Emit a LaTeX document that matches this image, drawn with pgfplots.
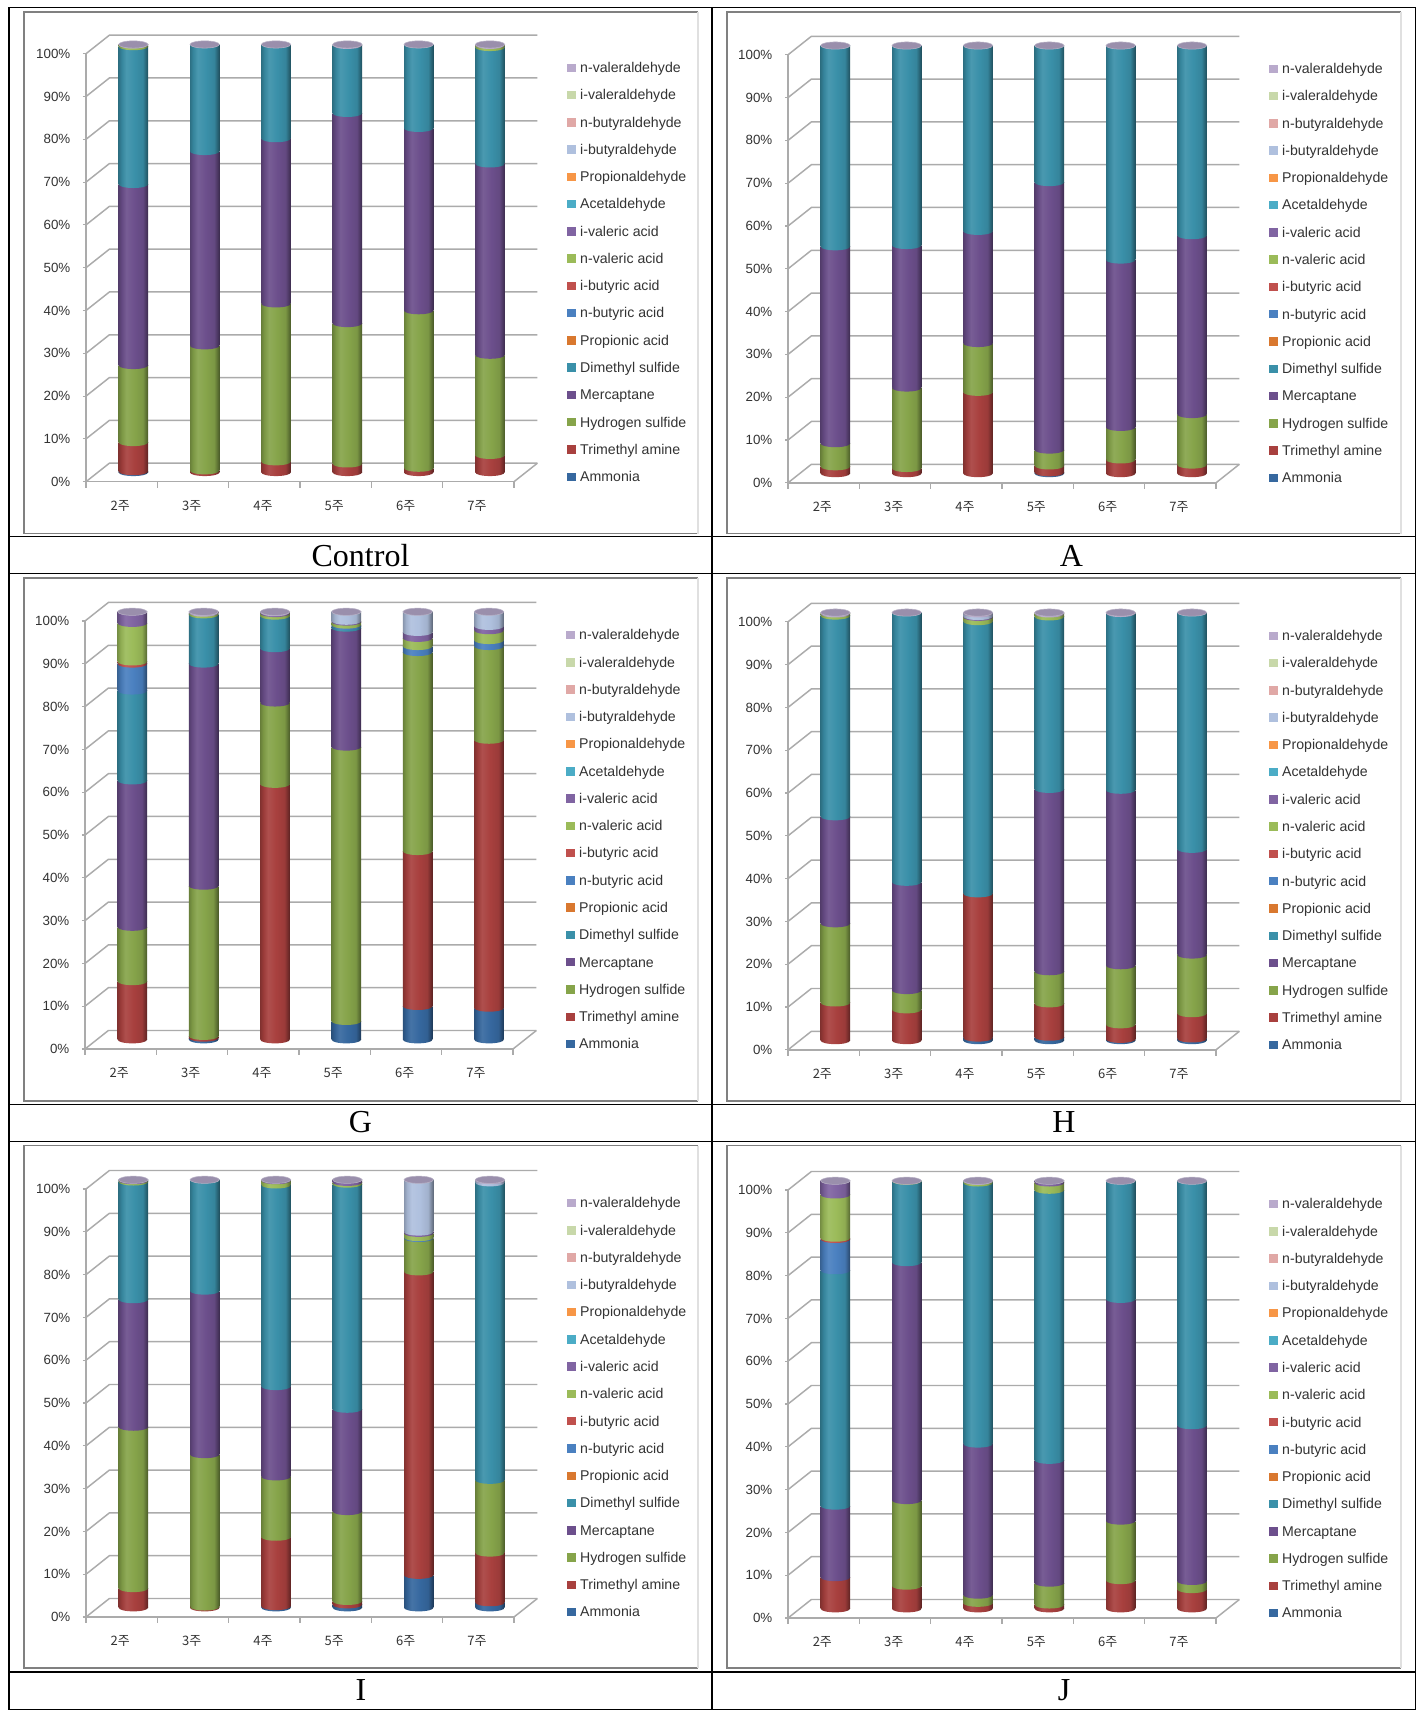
\documentclass[border=0pt]{standalone}
\usepackage{pgfplots}
\usepackage{pgfplotstable}
\pgfplotsset{compat=1.18}
\usepackage{fontspec}
\setmainfont{Liberation Sans}
\newfontfamily\kr{Noto Sans CJK KR}
\newfontfamily\capfont{Liberation Serif}

\definecolor{cAmm}{HTML}{36689F}
\definecolor{cTma}{HTML}{A8403E}
\definecolor{cHsu}{HTML}{86A44A}
\definecolor{cMer}{HTML}{6C4F8C}
\definecolor{cDms}{HTML}{3A90A9}
\definecolor{cPro}{HTML}{D9782F}
\definecolor{cNbu}{HTML}{4A80C0}
\definecolor{cIbu}{HTML}{C0504D}
\definecolor{cNva}{HTML}{9BBB59}
\definecolor{cIva}{HTML}{8064A2}
\definecolor{cAce}{HTML}{4BACC6}
\definecolor{cPra}{HTML}{F79646}
\definecolor{cIba}{HTML}{AFC0DE}
\definecolor{cNba}{HTML}{E0A8A6}
\definecolor{cIvd}{HTML}{C8D8AA}
\definecolor{cNvd}{HTML}{B9AACC}
\definecolor{wall}{HTML}{ABABAB}
\definecolor{lidc}{HTML}{9A8FAC}
\colorlet{cyl}{black}

% shares per week, bottom of the stack first
\pgfplotstableread{
w   Amm Tma  Hsu  Mer  Dms  Pro Nbu Ibu Nva Iva Ace Pra Iba Nba Ivd Nvd
0.5 0.2 6.8  18.0 42.3 32.2 0   0   0   0.4 0   0   0   0   0   0   0.1
1.5 0   0.4  29.2 45.4 25.0 0   0   0   0   0   0   0   0   0   0   0
2.5 0   2.5  36.9 38.6 22.0 0   0   0   0   0   0   0   0   0   0   0
3.5 0   2.0  32.8 49.1 15.9 0   0   0   0   0   0   0   0   0   0   0.2
4.5 0   1.0  36.8 42.6 19.6 0   0   0   0   0   0   0   0   0   0   0
5.5 0   4.0  23.4 44.7 27.2 0   0   0   0.5 0   0   0   0   0   0   0.2
}\tabC
\pgfplotstableread{
w   Amm Tma  Hsu  Mer  Dms  Pro Nbu Ibu Nva Iva Ace Pra Iba Nba Ivd Nvd
0.5 0   1.6  5.4  46.0 47.0 0   0   0   0   0   0   0   0   0   0   0
1.5 0   1.2  18.8 33.3 46.7 0   0   0   0   0   0   0   0   0   0   0
2.5 0   19.0 11.4 26.2 43.4 0   0   0   0   0   0   0   0   0   0   0
3.5 0.2 1.6  3.7  62.5 32.0 0   0   0   0   0   0   0   0   0   0   0
4.5 0   3.2  7.6  39.1 50.1 0   0   0   0   0   0   0   0   0   0   0
5.5 0   2.0  11.8 41.8 44.4 0   0   0   0   0   0   0   0   0   0   0
}\tabA
\pgfplotstableread{
w   Amm Tma  Hsu  Mer  Dms  Pro Nbu Ibu Nva Iva Ace Pra Iba Nba Ivd Nvd
0.5 0   13.6 12.7 34.2 21.0 0   6.3 0.5 9.0 2.7 0   0   0   0   0   0
1.5 0.4 0.4  35.1 51.9 11.5 0   0   0   0.4 0   0   0   0   0   0   0.3
2.5 0   59.7 19.0 12.7 7.6  0   0   0   0.6 0.2 0   0   0   0   0   0.2
3.5 4.3 0    64.1 27.8 0.4  0   0.3 0   0.7 0.2 0   0   2.2 0   0   0
4.5 7.8 36.2 46.5 0    0    0   1.4 0   1.9 1.4 0   0   4.8 0   0   0
5.5 7.4 62.6 21.9 0    0    0   1.4 0   2.3 1.0 0   0   3.4 0   0   0
}\tabG
\pgfplotstableread{
w   Amm Tma  Hsu  Mer  Dms  Pro Nbu Ibu Nva Iva Ace Pra Iba Nba Ivd Nvd
0.5 0   8.8  18.5 25.0 46.9 0   0   0   0.5 0   0   0   0   0   0   0.3
1.5 0   7.2  4.5  25.3 63.0 0   0   0   0   0   0   0   0   0   0   0
2.5 0.6 33.7 0    0    63.6 0   0   0   1.0 0.2 0   0   0.6 0   0   0.3
3.5 0.8 7.8  7.5  42.6 40.3 0   0   0   0.7 0   0   0   0   0   0   0.3
4.5 0.3 3.4  13.8 41.0 41.3 0   0   0   0   0   0   0   0   0   0   0.2
5.5 0.4 5.9  13.7 24.7 55.3 0   0   0   0   0   0   0   0   0   0   0
}\tabH
\pgfplotstableread{
w   Amm Tma  Hsu  Mer  Dms  Pro Nbu Ibu Nva Iva Ace Pra Iba Nba Ivd Nvd
0.5 0   4.5  37.7 29.8 27.5 0   0   0   0.3 0.2 0   0   0   0   0   0
1.5 0   0.2  35.6 38.2 26.0 0   0   0   0   0   0   0   0   0   0   0
2.5 0.3 16.2 14.1 21.1 47.1 0   0   0   1.0 0.2 0   0   0   0   0   0
3.5 0.7 0.8  21.0 23.9 52.6 0   0   0   0.4 0.6 0   0   0   0   0   0
4.5 7.6 70.9 7.8  0    0    0   0.2 0   1.0 0.3 0   0   12.2 0  0   0
5.5 1.2 11.6 17.0 0    69.5 0   0   0   0   0   0   0   0.5 0   0   0.2
}\tabI
\pgfplotstableread{
w   Amm Tma  Hsu  Mer  Dms  Pro Nbu Ibu Nva  Iva Ace Pra Iba Nba Ivd Nvd
0.5 0   7.3  0    16.7 55.0 0   7.3 0.3 10.1 3.3 0   0   0   0   0   0
1.5 0   5.3  20.0 55.6 19.0 0   0   0   0.1  0   0   0   0   0   0   0
2.5 0   1.3  1.9  35.3 61.0 0   0   0   0.4  0   0   0   0   0   0   0.1
3.5 0   0.9  5.1  28.7 63.1 0   0   0   1.7  0.5 0   0   0   0   0   0
4.5 0   6.6  13.9 51.8 27.7 0   0   0   0    0   0   0   0   0   0   0
5.5 0   4.5  1.9  36.4 57.2 0   0   0   0    0   0   0   0   0   0   0
}\tabJ

% running base of each segment
\def\bAmm{0}
\def\bTma{\thisrow{Amm}}
\def\bHsu{\bTma+\thisrow{Tma}}
\def\bMer{\bHsu+\thisrow{Hsu}}
\def\bDms{\bMer+\thisrow{Mer}}
\def\bPro{\bDms+\thisrow{Dms}}
\def\bNbu{\bPro+\thisrow{Pro}}
\def\bIbu{\bNbu+\thisrow{Nbu}}
\def\bNva{\bIbu+\thisrow{Ibu}}
\def\bIva{\bNva+\thisrow{Nva}}
\def\bAce{\bIva+\thisrow{Iva}}
\def\bPra{\bAce+\thisrow{Ace}}
\def\bIba{\bPra+\thisrow{Pra}}
\def\bNba{\bIba+\thisrow{Iba}}
\def\bIvd{\bNba+\thisrow{Nba}}
\def\bNvd{\bIvd+\thisrow{Ivd}}
\def\bTop{\bNvd+\thisrow{Nvd}}

% sideways shading of a cylinder, the bar spans 25bp to 75bp
\pgfdeclarehorizontalshading[cyl]{cylshade}{100bp}{
  color(0bp)=(cyl!78!black); color(25bp)=(cyl!78!black); color(30bp)=(cyl!92!black);
  color(38bp)=(cyl!92!white); color(52bp)=(cyl); color(66bp)=(cyl!92!black);
  color(75bp)=(cyl!55!black); color(100bp)=(cyl!55!black)}
\tikzset{cylinder look/.style={/utils/exec={\colorlet{cyl}{#1}},shade,shading=cylshade}}

% cylinder rim, the mark is the coloured disc at the foot of a segment
\pgfdeclareplotmark{rim}{\path[rotate=4,draw=none,cylinder look=\rimc]
  (0,0) ellipse [x radius=11pt,y radius=2.7pt];}
\pgfdeclareplotmark{lid}{\path[rotate=4,fill=\rimc,draw=\rimc!70!white,line width=0.4pt]
  (0,0) ellipse [x radius=11pt,y radius=2.7pt];}

\pgfplotsset{
  base/.style={scale only axis,width=321pt,height=321pt,xmin=0,xmax=6,ymin=0,ymax=100,
    anchor=south west,clip=false},
}
% one segment of one week
\newcommand{\seg}[3]{%
  \addplot[draw=none,cylinder look=c#1,restrict x to domain=#3] table[x=w,y=#1] {#2};
}
\newcommand{\key}[2]{%
  \addlegendimage{legend image code/.code={\fill[c#1] (0pt,-2.8pt) rectangle (6pt,2.8pt);}}
  \addlegendentry{#2}
}
\newcommand{\rim}[2]{%
  \addplot[only marks,mark=rim,/utils/exec={\def\rimc{c#1}},
    restrict expr to domain={\thisrow{#1}}{0.01:1000}]
    table[x=w,y expr=\csname b#1\endcsname] {#2};
}
% a week gets its own axis so that the shading is per bar
\newcommand{\week}[4]{%
  \begin{axis}[base,at={({(#1+11.7)*0.75pt},{-(#2-9.25)*0.75pt})},hide axis,
    ybar stacked,bar width=22.05pt]
    \seg{Amm}{#3}{#4}\seg{Tma}{#3}{#4}\seg{Hsu}{#3}{#4}\seg{Mer}{#3}{#4}
    \seg{Dms}{#3}{#4}\seg{Pro}{#3}{#4}\seg{Nbu}{#3}{#4}\seg{Ibu}{#3}{#4}
    \seg{Nva}{#3}{#4}\seg{Iva}{#3}{#4}\seg{Ace}{#3}{#4}\seg{Pra}{#3}{#4}
    \seg{Iba}{#3}{#4}\seg{Nba}{#3}{#4}\seg{Ivd}{#3}{#4}\seg{Nvd}{#3}{#4}
  \end{axis}
}

\newcommand{\panel}[3]{%
  % walls, front axis and tick labels
  \begin{axis}[base,at={({#1*0.75pt},{-#2*0.75pt})},
    axis lines=left,axis line style={-,wall,line width=1.1pt},
    xtick={0.5,1.5,2.5,3.5,4.5,5.5},xticklabels={2주,3주,4주,5주,6주,7주},
    x tick label style={font=\kr\fontsize{9.75}{12}\selectfont,text=black!80,yshift=-8.4pt,xshift=-1pt},
    xtick style={draw=none},
    ytick={0,10,...,100},
    /pgf/number format/assume math mode=true,
    yticklabel={\pgfmathprintnumber{\tick}\%},
    y tick label style={font=\fontsize{10}{12}\selectfont,text=black!80,xshift=-6pt},
    ytick style={wall,line width=0.8pt},tick align=outside,major tick length=2.25pt]
    \pgfplotsinvokeforeach{0,10,...,100}{
      \draw[wall,line width=1.1pt] (axis cs:0,##1) -- (axis cs:0.328,##1+4.33) -- (axis cs:6.328,##1+4.33);}
    \draw[wall,line width=1.1pt] (axis cs:6,0) -- (axis cs:6.328,4.33);
    \pgfplotsinvokeforeach{0,1,...,6}{
      \draw[wall,line width=0.8pt] (axis cs:##1,0) -- ++(0,-4.5pt);}
  \end{axis}
  % stacked bars
  \week{#1}{#2}{#3}{0.4:0.6}\week{#1}{#2}{#3}{1.4:1.6}\week{#1}{#2}{#3}{2.4:2.6}
  \week{#1}{#2}{#3}{3.4:3.6}\week{#1}{#2}{#3}{4.4:4.6}\week{#1}{#2}{#3}{5.4:5.6}
  % rims and lids over the bars, legend beside them
  \begin{axis}[base,at={({(#1+11.7)*0.75pt},{-(#2-9.25)*0.75pt})},hide axis]
    \rim{Amm}{#3}\rim{Tma}{#3}\rim{Hsu}{#3}\rim{Mer}{#3}
    \rim{Dms}{#3}\rim{Pro}{#3}\rim{Nbu}{#3}\rim{Ibu}{#3}
    \rim{Nva}{#3}\rim{Iva}{#3}\rim{Ace}{#3}\rim{Pra}{#3}
    \rim{Iba}{#3}\rim{Nba}{#3}\rim{Ivd}{#3}\rim{Nvd}{#3}
    \addplot[only marks,mark=lid,/utils/exec={\def\rimc{lidc}}] table[x=w,y expr=\bTop] {#3};
  \end{axis}
  \begin{axis}[base,at={({(#1+11.7)*0.75pt},{-(#2-9.25)*0.75pt})},hide axis,
    reverse legend,legend cell align=left,
    legend style={at={(1.0965,0.4683)},anchor=west,draw=none,fill=none,inner sep=0pt,
      row sep=0pt,font=\fontsize{10.6}{12}\selectfont,text=black!80,
      nodes={inner sep=0pt,text height=14pt,text depth=6.45pt},
      /tikz/every odd column/.append style={column sep=3.3pt}}]
    \key{Amm}{Ammonia}
    \key{Tma}{Trimethyl amine}
    \key{Hsu}{Hydrogen sulfide}
    \key{Mer}{Mercaptane}
    \key{Dms}{Dimethyl sulfide}
    \key{Pro}{Propionic acid}
    \key{Nbu}{n-butyric acid}
    \key{Ibu}{i-butyric acid}
    \key{Nva}{n-valeric acid}
    \key{Iva}{i-valeric acid}
    \key{Ace}{Acetaldehyde}
    \key{Pra}{Propionaldehyde}
    \key{Iba}{i-butyraldehyde}
    \key{Nba}{n-butyraldehyde}
    \key{Ivd}{i-valeraldehyde}
    \key{Nvd}{n-valeraldehyde}
  \end{axis}
}

\newcommand{\chartframe}[4]{%
  \draw[black!50,line width=1.3pt] ({#3*0.75pt},{-#2*0.75pt}) -- ({#1*0.75pt},{-#2*0.75pt}) -- ({#1*0.75pt},{-#4*0.75pt}) -- ({#3*0.75pt},{-#4*0.75pt});
  \draw[black!12,line width=1pt] ({#3*0.75pt},{-#2*0.75pt}) -- ({#3*0.75pt},{-#4*0.75pt});
}
\newcommand{\cellname}[3]{\node[font=\capfont\fontsize{24}{28}\selectfont] at ({#1*0.75pt},{-#2*0.75pt}) {#3};}

\begin{document}
\begin{tikzpicture}
  \path[fill=white] (0,0) rectangle ({1423*0.75pt},{-1718*0.75pt});
  % table rules
  \foreach \yy in {7.4,536.4,573.4,1104.6,1141.6,1672,1709.5}
    \draw[black,line width=1.1pt] ({9*0.75pt},{-\yy*0.75pt}) -- ({1415.5*0.75pt},{-\yy*0.75pt});
  \foreach \xx in {9,712,1415.5}
    \draw[black,line width=1.1pt] ({\xx*0.75pt},{-7.4*0.75pt}) -- ({\xx*0.75pt},{-1709.5*0.75pt});
  \chartframe{24}{11.8}{698}{533.5}
  \chartframe{727}{11.8}{1401}{533.5}
  \chartframe{24}{578}{698}{1101}
  \chartframe{727}{578}{1401}{1101}
  \chartframe{24}{1145.5}{698}{1668}
  \chartframe{727}{1145.5}{1401}{1668}
  \panel{86}{481.7}{\tabC}
  \panel{788}{482.8}{\tabA}
  \panel{85}{1049}{\tabG}
  \panel{788}{1049.8}{\tabH}
  \panel{86}{1617}{\tabI}
  \panel{788}{1618}{\tabJ}
  \cellname{360.5}{556}{Control}
  \cellname{1071.5}{556}{A}
  \cellname{360.5}{1122}{G}
  \cellname{1064}{1122}{H}
  \cellname{361}{1690}{I}
  \cellname{1064}{1690}{J}
\end{tikzpicture}
\end{document}
